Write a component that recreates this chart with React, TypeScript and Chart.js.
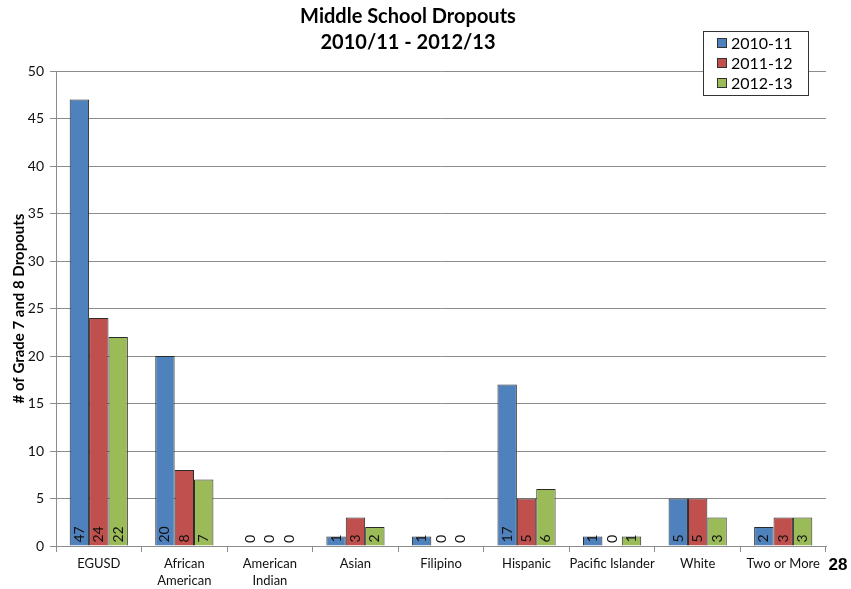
import React, { useEffect, useRef } from "react";
import { Chart, registerables } from "chart.js";

Chart.register(...registerables);

const categories: (string | string[])[] = [
  "EGUSD",
  ["African", "American"],
  ["American", "Indian"],
  "Asian",
  "Filipino",
  "Hispanic",
  "Pacific Islander",
  "White",
  "Two or More",
];
const seriesNames = ["2010-11", "2011-12", "2012-13"];
const values2010 = [47, 20, 0, 1, 1, 17, 1, 5, 2];
const values2011 = [24, 8, 0, 3, 0, 5, 0, 5, 3];
const values2012 = [22, 7, 0, 2, 0, 6, 1, 3, 3];
const seriesColors = ["#4F81BD", "#C0504D", "#9BBB59"];
const titleLines = ["Middle School Dropouts", "2010/11 - 2012/13"];
const yTitle = "# of Grade 7 and 8 Dropouts";
const pageNumber = "28";

const FONT = "Lato, 'Open Sans', sans-serif";

const overlayPlugin = {
  id: "overlay",
  afterDatasetsDraw(chart: any) {
    const ctx = chart.ctx;
    ctx.save();
    ctx.font = `14px ${FONT}`;
    ctx.fillStyle = "#111";
    chart.data.datasets.forEach((ds: any, di: number) => {
      const meta = chart.getDatasetMeta(di);
      meta.data.forEach((bar: any, i: number) => {
        const v = ds.data[i];
        ctx.save();
        ctx.translate(bar.x, bar.base - 3);
        ctx.rotate(-Math.PI / 2);
        ctx.textAlign = "left";
        ctx.textBaseline = "middle";
        ctx.fillText(String(v), 0, 0);
        ctx.restore();
      });
    });
    ctx.restore();
  },
  afterDraw(chart: any) {
    const ctx = chart.ctx;
    ctx.save();
    // Title
    ctx.fillStyle = "#000";
    ctx.font = `bold 20px ${FONT}`;
    ctx.textAlign = "center";
    ctx.textBaseline = "middle";
    ctx.fillText(titleLines[0], 408, 17);
    ctx.fillText(titleLines[1], 408, 43);
    // Legend
    const lx = 703, ly = 31, lw = 105, lh = 64;
    ctx.fillStyle = "#fff";
    ctx.fillRect(lx, ly, lw, lh);
    ctx.strokeStyle = "#333";
    ctx.lineWidth = 1;
    ctx.strokeRect(lx + 0.5, ly + 0.5, lw, lh);
    ctx.font = `16px ${FONT}`;
    ctx.textAlign = "left";
    seriesNames.forEach((n, i) => {
      const y = ly + 12 + i * 20;
      ctx.fillStyle = seriesColors[i];
      ctx.fillRect(lx + 14, y - 5, 9, 9);
      ctx.strokeStyle = "#333";
      ctx.strokeRect(lx + 14.5, y - 4.5, 9, 9);
      ctx.fillStyle = "#000";
      ctx.fillText(n, lx + 28, y + 1);
    });
    // Page number
    ctx.font = "bold 17px 'Liberation Sans', Arial, sans-serif";
    ctx.textAlign = "center";
    ctx.fillText(pageNumber, 838, 565);
    ctx.restore();
  },
};

export default function App() {
  const ref = useRef<HTMLCanvasElement>(null);
  useEffect(() => {
    if (!ref.current) return;
    const chart = new Chart(ref.current, {
      type: "bar",
      data: {
        labels: categories,
        datasets: [values2010, values2011, values2012].map((d, i) => ({
          label: seriesNames[i],
          data: d,
          backgroundColor: seriesColors[i],
          borderColor: "#2a2a2a",
          borderWidth: 1,
          categoryPercentage: 0.68,
          barPercentage: 1.0,
        })),
      },
      options: {
        animation: false,
        responsive: false,
        maintainAspectRatio: false,
        layout: { padding: { top: 71, right: 25, bottom: 0, left: 0 } },
        plugins: {
          legend: { display: false },
          title: { display: false },
          tooltip: { enabled: false },
        },
        scales: {
          x: {
            grid: {
              offset: true,
              drawOnChartArea: false,
              drawTicks: true,
              tickLength: 6,
              color: "#8c8c8c",
            },
            border: { color: "#8c8c8c" },
            ticks: {
              color: "#111",
              font: { family: FONT, size: 13, lineHeight: 1.3 },
              maxRotation: 0,
              autoSkip: false,
              padding: 3,
            },
            afterFit(scale: any) {
              scale.height = 43;
            },
          },
          y: {
            min: 0,
            max: 50,
            ticks: {
              stepSize: 5,
              color: "#111",
              font: { family: FONT, size: 14 },
              padding: 6,
            },
            grid: { color: "#8c8c8c", tickLength: 6 },
            border: { color: "#8c8c8c" },
            title: {
              display: true,
              text: yTitle,
              color: "#000",
              font: { family: FONT, size: 15, weight: "bold" },
              padding: { top: 10, bottom: 4 },
            },
            afterFit(scale: any) {
              scale.width = 56;
            },
          },
        },
      },
      plugins: [overlayPlugin],
    });
    return () => chart.destroy();
  }, []);
  return (
    <div style={{ position: "absolute", left: 0, top: 0, width: 851, height: 589, background: "#fff" }}>
      <canvas ref={ref} width={851} height={589} style={{ width: 851, height: 589 }} />
    </div>
  );
}
